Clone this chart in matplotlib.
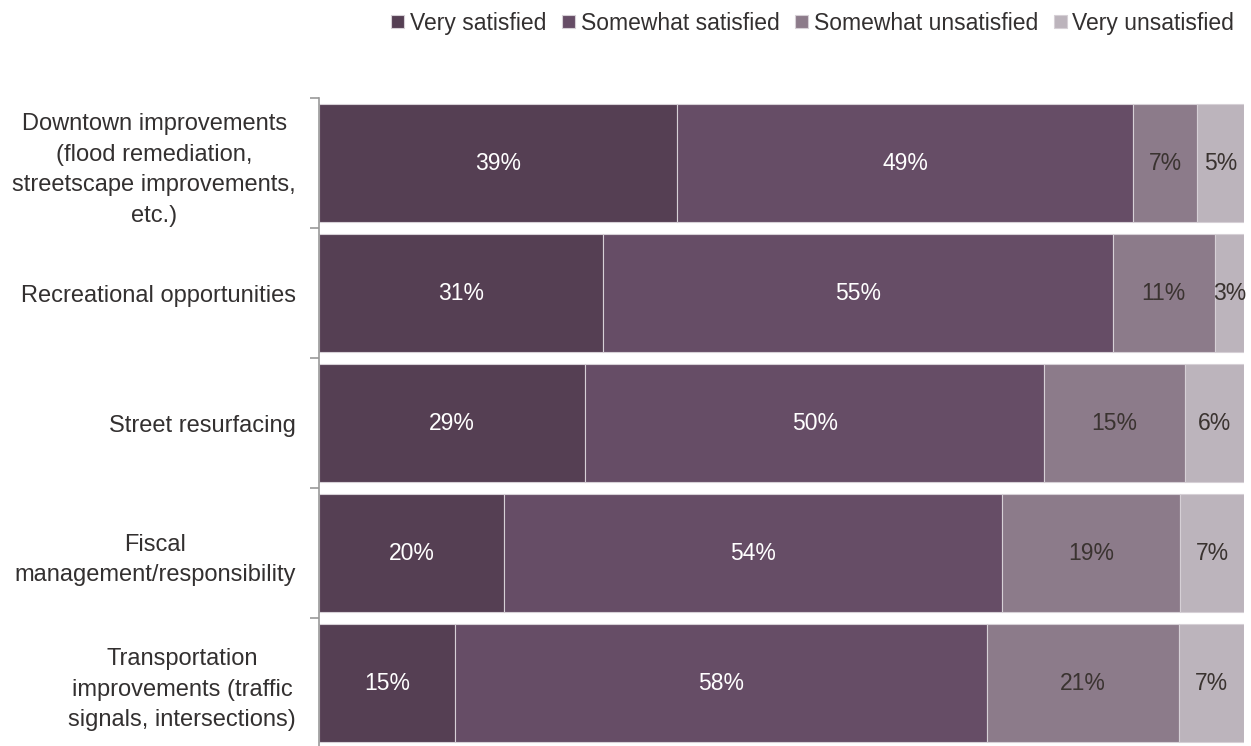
import matplotlib.pyplot as plt
import numpy as np

plt.rcParams["font.family"] = ["Liberation Sans", "DejaVu Sans"]

# survey categories, top to bottom
categories = [
    "Downtown improvements\n(flood remediation,\nstreetscape improvements,\netc.)",
    "Recreational opportunities",
    "Street resurfacing",
    "Fiscal\nmanagement/responsibility",
    "Transportation\nimprovements (traffic\nsignals, intersections)",
]
series = ["Very satisfied", "Somewhat satisfied", "Somewhat unsatisfied", "Very unsatisfied"]

very_sat = [38.7, 30.7, 28.8, 20.0, 14.7]
somewhat_sat = [49.3, 55.1, 49.6, 53.8, 57.5]
somewhat_unsat = [6.9, 11.0, 15.2, 19.3, 20.8]
very_unsat = [5.1, 3.2, 6.4, 6.9, 7.0]

colors = ["#553f53", "#664d66", "#8c7b8a", "#bcb4bc"]
text_colors = ["white", "white", "#3a3330", "#3a3330"]
fs = 16.5

fig = plt.figure(figsize=(12.51, 7.46), dpi=100)
ax = fig.add_axes([0.255, -0.003, 0.7395, 0.8715])

y = np.arange(len(categories))
left = np.zeros(len(categories))
for vals, name, c, tc in zip([very_sat, somewhat_sat, somewhat_unsat, very_unsat],
                             series, colors, text_colors):
    vals = np.array(vals)
    bars = ax.barh(y, vals, left=left, height=0.91, color=c, label=name,
                   edgecolor="#d6d0d6", linewidth=0.8)
    for b, v in zip(bars, vals):
        ax.text(b.get_x() + b.get_width() / 2, b.get_y() + b.get_height() / 2,
                f"{v:.0f}%", ha="center", va="center", color=tc, fontsize=fs)
    left += vals

ax.set_xlim(0, left.max())
ax.set_ylim(len(categories) - 0.5, -0.5)

ax.set_yticks(y)
ax.set_yticklabels(categories, fontsize=17, color="#333030", multialignment="center",
                   linespacing=1.5)
ax.tick_params(axis="y", which="major", length=0, pad=16.5)
ax.set_yticks(np.arange(-0.5, len(categories) + 0.5, 1), minor=True)
ax.tick_params(axis="y", which="minor", length=6.5, color="#999999", width=1.2)
ax.set_xticks([])

for s in ["top", "right", "bottom"]:
    ax.spines[s].set_visible(False)
ax.spines["left"].set_color("#999999")
ax.spines["left"].set_linewidth(1.2)

fig.legend(loc="upper right", bbox_to_anchor=(1.003, 1.012), ncol=4, frameon=False,
           fontsize=fs, handlelength=0.55, handleheight=0.55, handletextpad=0.25,
           columnspacing=0.7, labelcolor="#333030")

fig.savefig("out.png", dpi=100)
